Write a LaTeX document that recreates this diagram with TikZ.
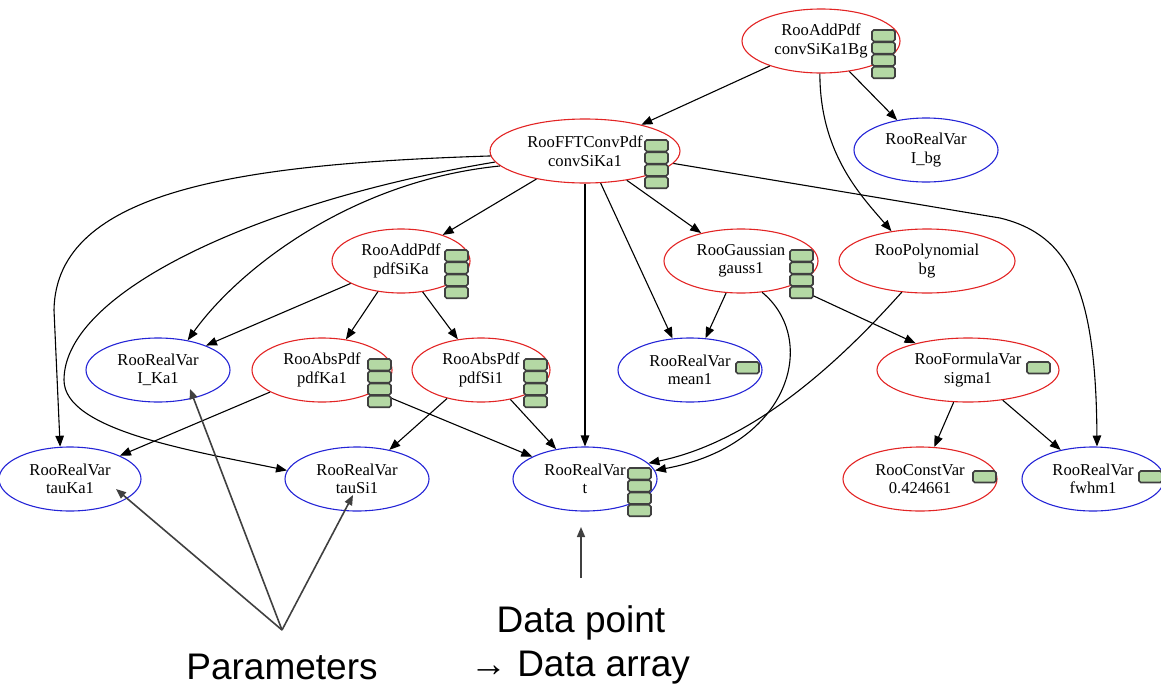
\documentclass[tikz,border=0pt]{standalone}
\usepackage{fontspec}
\setmainfont{Liberation Serif}
\newfontfamily\labelsans{Liberation Sans}
\usetikzlibrary{arrows.meta,calc,shapes.geometric}

\definecolor{pdfred}{RGB}{226,36,36}
\definecolor{varblue}{RGB}{36,36,214}
\definecolor{slotfill}{RGB}{180,216,164}
\definecolor{slotedge}{RGB}{64,64,64}
\definecolor{notegray}{RGB}{64,64,64}

\tikzset{
  obj/.style={ellipse, draw, line width=1.1pt, inner sep=0pt, minimum height=64pt,
    align=center, font=\fontsize{16.6}{18.5}\selectfont},
  fn/.style={obj, draw=pdfred},
  var/.style={obj, draw=varblue},
  dep/.style={line width=1.1pt, -{Triangle[length=11pt,width=8.5pt]}},
  note/.style={draw=notegray, line width=1.6pt, -{Triangle[length=10pt,width=8pt,fill=notegray]}},
  slot/.style={fill=slotfill, draw=slotedge, line width=1.6pt, rounded corners=1.8pt},
  caption/.style={anchor=base, inner sep=0pt, font=\labelsans\fontsize{37}{42}\selectfont},
}

% a column of value slots to the right of a node's label
\newcommand\slotstack[3]{%
  \foreach \k in {1,...,#3} {
    \draw[slot] ($(#1)+(#2,-23.3+12.3*\k)$) rectangle ++(23,11.3);
  }}
\newcommand\slotone[2]{\draw[slot] ($(#1)+(#2,-8)$) rectangle ++(23,11.5);}

\begin{document}
\begin{tikzpicture}[x=1pt,y=-1pt]
\useasboundingbox (0,0) rectangle (1161,686);

% pdf objects
\node[fn, minimum width=158pt] (cbg) at (821,41) {RooAddPdf\\convSiKa1Bg};
\node[fn, minimum width=190pt] (cks) at (585,151) {RooFFTConvPdf\\convSiKa1};
\node[fn, minimum width=138pt] (pdfSiKa) at (401,261) {RooAddPdf\\pdfSiKa};
\node[fn, minimum width=154pt] (gauss) at (741,261) {RooGaussian\\gauss1};
\node[fn, minimum width=176pt] (bg) at (927,261) {RooPolynomial\\bg};
\node[fn, minimum width=140pt] (pdfKa1) at (322,370) {RooAbsPdf\\pdfKa1};
\node[fn, minimum width=138pt] (pdfSi1) at (481,370) {RooAbsPdf\\pdfSi1};
\node[fn, minimum width=182pt] (sigma1) at (968,370) {RooFormulaVar\\sigma1};
\node[fn, minimum width=154pt] (const) at (920,479) {RooConstVar\\0.424661};

% variables
\node[var, minimum width=144pt] (Ibg) at (926,150) {RooRealVar\\I\_bg};
\node[var, minimum width=144pt] (IKa1) at (158,370) {RooRealVar\\I\_Ka1};
\node[var, minimum width=144pt] (mean1) at (690,370) {RooRealVar\\mean1};
\node[var, minimum width=142pt] (tauKa1) at (70,479) {RooRealVar\\tauKa1};
\node[var, minimum width=144pt] (tauSi1) at (357,479) {RooRealVar\\tauSi1};
\node[var, minimum width=144pt] (t) at (585,479) {RooRealVar\\t};
\node[var, minimum width=142pt] (fwhm1) at (1093,479) {RooRealVar\\fwhm1};

% dependencies
\draw[dep] (cbg.206) -- (cks.25);
\draw[dep] (cbg.313) -- (Ibg.134);
\draw[dep] (cbg.268) .. controls +(0,80) and +(-30,-35) .. (bg.140);

\draw[dep] (cks.210) -- (pdfSiKa.32);
\draw[dep] (cks.190) .. controls +(-150,15) and +(50,-70) .. (IKa1.45);
\draw[dep] (cks.183) .. controls +(-250,8) and +(2,-120) .. (54,310) -- (tauKa1.107);
\draw[dep] (cks.187) .. controls +(-230,38) and +(0,-90) .. (64,380)
                     .. controls +(0,50) and +(-97,-20) .. (tauSi1.173);
\draw[dep] (cks.270) -- (t.90);
\draw[dep] (cks.296) -- (mean1.119);
\draw[dep] (cks.325) -- (gauss.145);
\draw[dep] (cks.352) -- (1000,218) .. controls +(70,17) and +(-1,-156) .. (fwhm1.83);

\draw[dep] (pdfSiKa.204) -- (IKa1.27);
\draw[dep] (pdfSiKa.233) -- (pdfKa1.52);
\draw[dep] (pdfSiKa.305) -- (pdfSi1.127);

\draw[dep] (pdfKa1.203) -- (tauKa1.25);
\draw[dep] (pdfKa1.338) -- (t.157);
\draw[dep] (pdfSi1.220) -- (tauSi1.42);
\draw[dep] (pdfSi1.315) -- (t.134);

\draw[dep] (gauss.245) -- (mean1.64);
\draw[dep] (gauss.304) .. controls +(57,47) and +(136,-25) .. (t.7);
\draw[dep] (gauss.334) -- (sigma1.153);
\draw[dep] (bg.231) .. controls +(-52,58) and +(112,-23) .. (t.14);

\draw[dep] (sigma1.246) -- (const.66);
\draw[dep] (sigma1.319) -- (fwhm1.138);

% value slots
\slotstack{cbg}{51}{4}
\slotstack{cks}{60}{4}
\slotstack{pdfSiKa}{44}{4}
\slotstack{gauss}{49}{4}
\slotstack{pdfKa1}{46}{4}
\slotstack{pdfSi1}{43}{4}
\slotstack{t}{43}{4}
\slotone{mean1}{46}
\slotone{sigma1}{59}
\slotone{const}{53}
\slotone{fwhm1}{46}

% annotations
\node[caption] (params) at (282,679) {Parameters};
\node[caption] (datapt) at (581,632) {Data point};
\node[caption] (dataarr) at (580,676) {→ Data array};

\coordinate (par) at (282,630);
\coordinate (tauKa1tip) at ($(tauKa1)+(46,10)$);
\coordinate (IKa1tip) at ($(IKa1)+(32,19)$);
\coordinate (tauSi1tip) at ($(tauSi1)+(-4,16)$);
\draw[note] (par) -- (tauKa1tip);
\draw[note] (par) -- (IKa1tip);
\draw[note] (par) -- (tauSi1tip);

\coordinate (dat) at (581,578);
\coordinate (dattip) at ($(t)+(-4,48)$);
\draw[note] (dat) -- (dattip);
\end{tikzpicture}
\end{document}
